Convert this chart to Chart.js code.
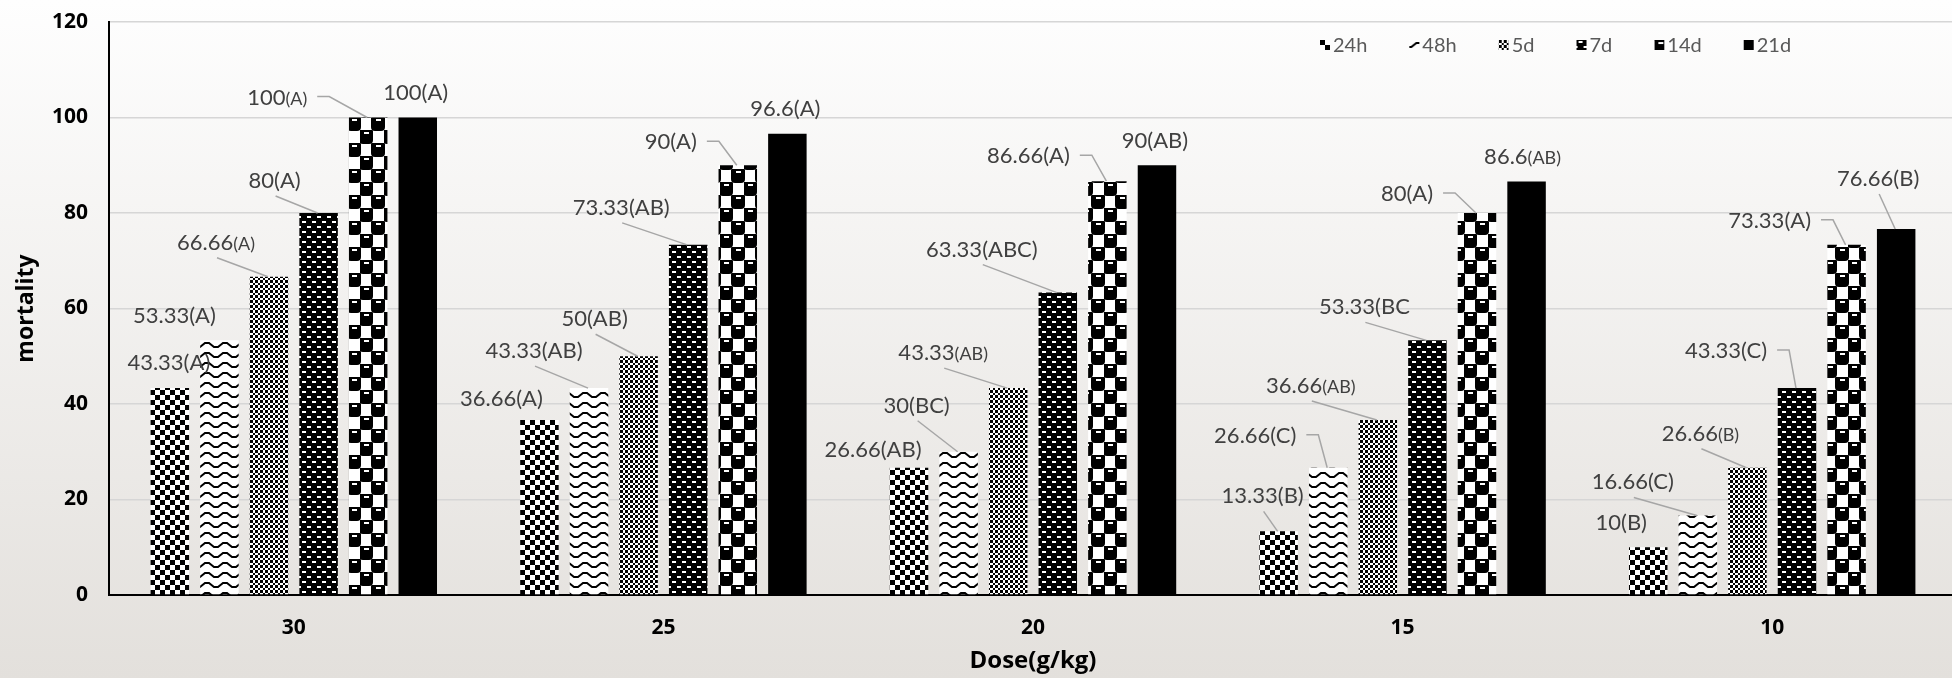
<!DOCTYPE html>
<html>
<head>
<meta charset="utf-8">
<script src="https://cdn.jsdelivr.net/npm/chart.js@4.4.0/dist/chart.umd.min.js"></script>
<style>
  html, body { margin: 0; padding: 0; overflow: hidden; }
  body { width: 1952px; height: 678px; background: linear-gradient(#fefefe, #e3e0dc); }
  #wrap { width: 1957px; height: 678px; }
</style>
</head>
<body>
<div id="wrap"><canvas id="myChart" width="1957" height="678"></canvas></div>
<script>
// categories (dose) and series (time)
const doses = ['30', '25', '20', '15', '10'];
const times = ['24h', '48h', '5d', '7d', '14d', '21d'];

// mortality values
const m24h = [43.33, 36.66, 26.66, 13.33, 10];
const m48h = [53.33, 43.33, 30, 26.66, 16.66];
const m5d  = [66.66, 50, 43.33, 36.66, 26.66];
const m7d  = [80, 73.33, 63.33, 53.33, 43.33];
const m14d = [100, 90, 86.66, 80, 73.33];
const m21d = [100, 96.6, 90, 86.6, 76.66];

// significance letters shown after each value
const l24h = ['(A)', '(A)', '(AB)', '(B)', '(B)'];
const l48h = ['(A)', '(AB)', '(BC)', '(C)', '(C)'];
const l5d  = ['(A)', '(AB)', '(AB)', '(AB)', '(B)'];
const l7d  = ['(A)', '(AB)', '(ABC)', '(BC', '(C)'];
const l14d = ['(A)', '(A)', '(A)', '(A)', '(A)'];
const l21d = ['(A)', '(A)', '(AB)', '(AB)', '(B)'];

const yTicks = [0, 20, 40, 60, 80, 100, 120];

// label placement relative to bar top: [dx, dy, leader (0 none, 1 straight, 2 elbow), small letters]
const labelLayout = [
  [[-1, -26, 0, 0], [-38, -22, 0, 0], [-36, -19, 0, 0], [-16, -36, 1, 0], [-27, -25, 0, 0]],
  [[-45, -25, 0, 0], [-55, -38, 1, 0], [-42, -47, 1, 0], [-73, -33, 2, 0], [-65, -34, 1, 0]],
  [[-53, -35, 1, 1], [-44, -38, 1, 0], [-65, -36, 1, 1], [-67, -35, 1, 1], [-47, -35, 1, 1]],
  [[-44, -33, 1, 0], [-67, -38, 1, 0], [-76, -44, 1, 0], [-63, -34, 1, 0], [-71, -38, 2, 0]],
  [[-91, -21, 2, 1], [-67, -24, 2, 0], [-79, -26, 2, 0], [-70, -20, 2, 0], [-77, -25, 2, 0]],
  [[-2, -26, 0, 0], [-2, -26, 0, 0], [-2, -25, 0, 0], [-4, -25, 0, 1], [-18, -51, 1, 0]]
];

function makePattern(w, h, draw) {
  const c = document.createElement('canvas');
  c.width = w; c.height = h;
  const g = c.getContext('2d');
  draw(g);
  return g.createPattern(c, 'repeat');
}

const p24 = makePattern(10, 10, g => {
  g.fillStyle = '#fff'; g.fillRect(0, 0, 10, 10);
  g.fillStyle = '#000'; g.fillRect(0, 0, 5, 5); g.fillRect(5, 5, 5, 5);
});
const p48 = makePattern(18, 10, g => {
  g.fillStyle = '#fff'; g.fillRect(0, 0, 18, 10);
  g.strokeStyle = '#000'; g.lineWidth = 2;
  g.beginPath();
  g.moveTo(-2, 7); g.lineTo(2, 7); g.lineTo(7, 3); g.lineTo(11, 3); g.lineTo(16, 7); g.lineTo(20, 7);
  g.stroke();
});
const p5d = makePattern(10, 10, g => {
  const e = [0, 3, 5, 8, 10];
  g.fillStyle = '#fff'; g.fillRect(0, 0, 10, 10);
  g.fillStyle = '#000';
  for (let r = 0; r < 4; r++) for (let c = 0; c < 4; c++)
    if ((r + c) % 2 == 0) g.fillRect(e[c], e[r], e[c + 1] - e[c], e[r + 1] - e[r]);
});
const p7d = makePattern(10, 10, g => {
  g.fillStyle = '#000'; g.fillRect(0, 0, 10, 10);
  g.fillStyle = '#fff';
  g.fillRect(2, 1, 4, 2); g.fillRect(7, 6, 3, 2); g.fillRect(0, 6, 1, 2);
});
const p14d = makePattern(24, 26, g => {
  g.fillStyle = '#fff'; g.fillRect(0, 0, 24, 26);
  [[0, 0], [12, 13], [-12, 13], [12, -13], [24, 13], [12, 26]].forEach(([x, y]) => {
    g.fillStyle = '#000';
    g.beginPath(); g.roundRect(x - 1, y, 14, 14, [1, 1, 4, 4]); g.fill();
    g.fillStyle = '#fff'; g.fillRect(x + 4, y + 2, 5, 2);
  });
});

const fills = [p24, p48, p5d, p7d, p14d, '#000'];
const values = [m24h, m48h, m5d, m7d, m14d, m21d];
const letters = [l24h, l48h, l5d, l7d, l14d, l21d];

const labelPlugin = {
  id: 'barLabels',
  afterDatasetsDraw(chart) {
    const ctx = chart.ctx;
    ctx.save();
    chart.data.datasets.forEach((ds, i) => {
      chart.getDatasetMeta(i).data.forEach((bar, j) => {
        const [dx, dy, mode, small] = labelLayout[i][j];
        const lx = bar.x + dx, ly = bar.y + dy;
        const num = String(ds.data[j]);
        const suf = letters[i][j];
        ctx.font = '22px Lato';
        const w1 = ctx.measureText(num).width;
        const sufFont = (small ? 18 : 22) + 'px Lato';
        ctx.font = sufFont;
        const w2 = ctx.measureText(suf).width;
        const left = lx - (w1 + w2) / 2;
        ctx.fillStyle = '#404040';
        ctx.textAlign = 'left';
        ctx.textBaseline = 'alphabetic';
        ctx.font = '22px Lato';
        ctx.fillText(num, left, ly + 8);
        ctx.font = sufFont;
        ctx.fillText(suf, left + w1, ly + 8);
        if (mode) {
          ctx.strokeStyle = '#a6a6a6';
          ctx.lineWidth = 1.5;
          ctx.beginPath();
          if (mode == 1) {
            ctx.moveTo(lx + 1, ly + 16);
          } else {
            const r = left + w1 + w2;
            ctx.moveTo(r + 10, ly);
            ctx.lineTo(r + 22, ly);
          }
          ctx.lineTo(bar.x - 1, bar.y);
          ctx.stroke();
        }
      });
    });
    ctx.restore();
  }
};

const legendPlugin = {
  id: 'innerLegend',
  afterDraw(chart) {
    const ctx = chart.ctx;
    ctx.save();
    ctx.font = '20px Lato';
    ctx.textBaseline = 'middle';
    ctx.textAlign = 'left';
    let x = 1320;
    const y = 45;
    chart.data.datasets.forEach(ds => {
      ctx.save();
      ctx.translate(x, y - 5);
      ctx.fillStyle = ds.backgroundColor;
      ctx.fillRect(0, 0, 10, 10);
      ctx.restore();
      ctx.fillStyle = '#595959';
      ctx.fillText(ds.label, x + 13, y + 1);
      x += 13 + ctx.measureText(ds.label).width + 42;
    });
    ctx.restore();
  }
};

const datasets = times.map((t, i) => ({
  label: t,
  data: values[i],
  backgroundColor: fills[i],
  borderWidth: 0,
  categoryPercentage: 0.805,
  barPercentage: 0.776
}));

new Chart(document.getElementById('myChart'), {
  type: 'bar',
  data: { labels: doses, datasets: datasets },
  options: {
    responsive: false,
    animation: false,
    layout: { padding: { top: 22, left: 0, right: 0, bottom: 0 } },
    plugins: { legend: { display: false }, tooltip: { enabled: false } },
    scales: {
      x: {
        grid: { display: false, drawTicks: false },
        border: { color: '#000', width: 2 },
        ticks: { color: '#000', font: { family: 'Open Sans', weight: 'bold', size: 21 }, padding: 20 },
        title: { display: true, text: 'Dose(g/kg)', color: '#000',
                 font: { family: 'Open Sans', weight: 'bold', size: 24 }, padding: { top: 0, bottom: 2 } },
        afterFit(scale) { scale.height = 83; scale.paddingLeft = 0; scale.paddingRight = 0; }
      },
      y: {
        min: 0, max: 120,
        afterBuildTicks(scale) { scale.ticks = yTicks.map(v => ({ value: v })); },
        grid: { color: '#d6d6d6', lineWidth: 1.5, drawTicks: false },
        border: { color: '#000', width: 2 },
        ticks: { color: '#000', font: { family: 'Open Sans', weight: 'bold', size: 21 }, padding: 21 },
        title: { display: true, text: 'mortality', color: '#000',
                 font: { family: 'Open Sans', weight: 'bold', size: 23 }, padding: { top: 13, bottom: 0 } },
        afterFit(scale) { scale.width = 109; scale.paddingTop = 0; scale.paddingBottom = 0; }
      }
    }
  },
  plugins: [labelPlugin, legendPlugin]
});
</script>
</body>
</html>
